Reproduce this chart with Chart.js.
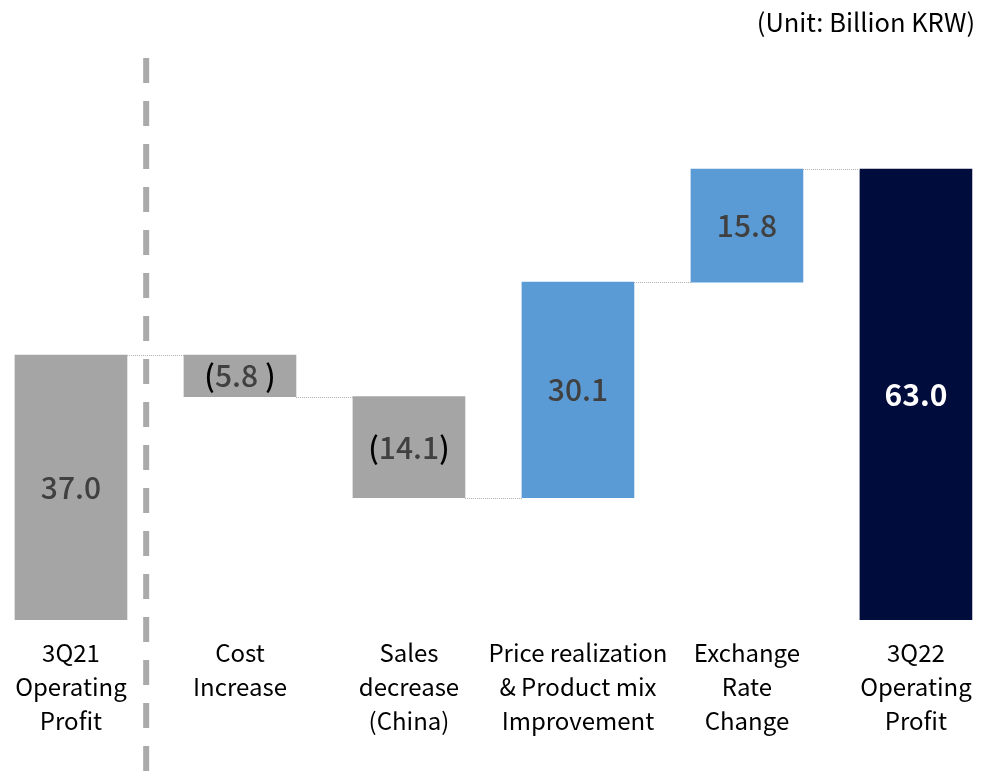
<!DOCTYPE html>
<html lang="en">
<head>
<meta charset="UTF-8">
<title>Operating profit bridge</title>
<script src="https://cdn.jsdelivr.net/npm/chart.js@4.4.0/dist/chart.umd.min.js"></script>
<style>
  html, body { margin: 0; padding: 0; background: #fff; }
  #wrap { position: relative; width: 981px; height: 771px; }
</style>
</head>
<body>
<div id="wrap"><canvas id="bridge" width="981" height="771"></canvas></div>
<script>
// categories (multi-line labels)
var categories = [
    ["3Q21", "Operating", "Profit"],
    ["Cost", "Increase"],
    ["Sales", "decrease", "(China)"],
    ["Price realization", "& Product mix", "Improvement"],
    ["Exchange", "Rate", "Change"],
    ["3Q22", "Operating", "Profit"]
];
// first and last are totals, the rest are changes
var changes = [37.0, -5.8, -14.1, 30.1, 15.8, 63.0];
var isTotal = [true, false, false, false, false, true];
var valueLabels = ["37.0", "(5.8 )", "(14.1)", "30.1", "15.8", "63.0"];

var barColors = ["#a5a5a5", "#a5a5a5", "#a5a5a5", "#5b9bd5", "#5b9bd5", "#000c3c"];
var FONT = "'Noto Sans CJK KR', 'Noto Sans', sans-serif";

// build floating ranges
var running = 0;
var ranges = [];
var levels = [];
for (var i = 0; i < changes.length; i++) {
    if (isTotal[i]) {
        ranges.push({x: i, y: [0, changes[i]]});
        running = changes[i];
    } else {
        var start = running;
        running = running + changes[i];
        ranges.push({x: i, y: [start, running]});
    }
    levels.push(running);
}

var extras = {
    id: 'extras',
    beforeDatasetsDraw: function(chart) {
        var ctx = chart.ctx;
        var xs = chart.scales.x, ys = chart.scales.y;
        // dashed divider after the starting total
        ctx.save();
        ctx.strokeStyle = "#aaaaaa";
        ctx.lineWidth = 6;
        ctx.setLineDash([25, 18]);
        var dx = xs.getPixelForValue(0.445);
        ctx.beginPath();
        ctx.moveTo(dx, ys.getPixelForValue(78.5));
        ctx.lineTo(dx, chart.height);
        ctx.stroke();
        ctx.restore();
    },
    afterDatasetsDraw: function(chart) {
        var ctx = chart.ctx;
        var ys = chart.scales.y;
        var bars = chart.getDatasetMeta(0).data;
        ctx.save();
        // dotted connectors
        ctx.strokeStyle = "#b0b0b0";
        ctx.lineWidth = 1;
        ctx.setLineDash([1, 1]);
        for (var i = 0; i < bars.length - 1; i++) {
            var y = Math.round(ys.getPixelForValue(levels[i])) + 0.5;
            ctx.beginPath();
            ctx.moveTo(bars[i].x + bars[i].width / 2, y);
            ctx.lineTo(bars[i + 1].x - bars[i + 1].width / 2, y);
            ctx.stroke();
        }
        ctx.setLineDash([]);
        // value labels
        ctx.textBaseline = "middle";
        for (var j = 0; j < bars.length; j++) {
            var b = bars[j];
            var cy = (b.y + b.base) / 2;
            var last = j === bars.length - 1;
            ctx.font = (last ? "bold " : "500 ") + "30px " + FONT;
            var txt = valueLabels[j];
            if (txt.charAt(0) === "(") {
                var inner = txt.slice(1, -1);
                var wl = ctx.measureText("(").width;
                var wi = ctx.measureText(inner).width;
                var wr = ctx.measureText(")").width;
                var x0 = b.x - (wl + wi + wr) / 2;
                ctx.textAlign = "left";
                ctx.fillStyle = "#000";
                ctx.fillText("(", x0, cy);
                ctx.fillStyle = "#404040";
                ctx.fillText(inner, x0 + wl, cy);
                ctx.fillStyle = "#000";
                ctx.fillText(")", x0 + wl + wi, cy);
            } else {
                ctx.textAlign = "center";
                ctx.fillStyle = last ? "#ffffff" : "#404040";
                ctx.fillText(txt, b.x, cy);
            }
        }
        // unit note
        ctx.font = "25.5px " + FONT;
        ctx.fillStyle = "#000";
        ctx.textAlign = "right";
        ctx.fillText("(Unit: Billion KRW)", 975, 22);
        ctx.restore();
    }
};

new Chart(document.getElementById("bridge"), {
    type: "bar",
    data: {
        datasets: [{
            data: ranges,
            backgroundColor: barColors,
            borderWidth: 0,
            barThickness: 112
        }]
    },
    options: {
        responsive: false,
        animation: false,
        layout: { padding: 0 },
        plugins: { legend: { display: false }, tooltip: { enabled: false } },
        scales: {
            x: {
                type: "linear",
                offset: false,
                min: -0.42,
                max: 5.385,
                grid: { display: false, drawTicks: false },
                border: { display: false },
                afterFit: function(scale) {
                    scale.height = 151;
                    scale.paddingLeft = 0;
                    scale.paddingRight = 0;
                },
                ticks: {
                    stepSize: 1,
                    includeBounds: false,
                    autoSkip: false,
                    maxRotation: 0,
                    padding: 16,
                    color: "#000",
                    font: { family: FONT, size: 24, lineHeight: "34px" },
                    callback: function(v) { return categories[v] || ""; }
                }
            },
            y: {
                display: false,
                min: 0,
                max: 86.6
            }
        }
    },
    plugins: [extras]
});
</script>
</body>
</html>
